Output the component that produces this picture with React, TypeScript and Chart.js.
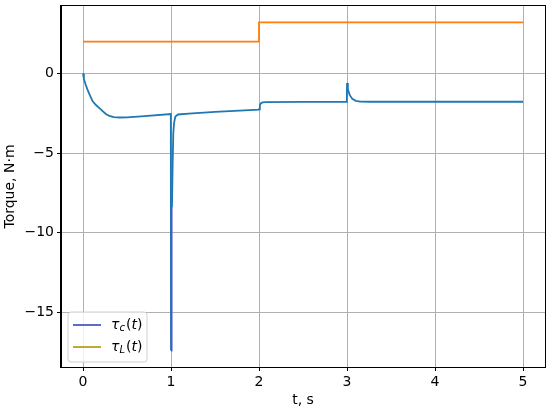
import React, { useEffect, useRef } from "react";
import { Chart, registerables } from "chart.js";

Chart.register(...registerables);

// τc(t) samples
const tC = [
  0, 0.01, 0.03, 0.05, 0.08, 0.11, 0.15, 0.19, 0.22, 0.26, 0.3, 0.35, 0.42, 0.5, 0.7, 0.998,
  1.0, 1.003, 1.007, 1.011, 1.018, 1.026, 1.035, 1.05, 1.08, 1.2, 1.5, 1.998,
  2.0, 2.01, 2.02, 2.04, 2.08, 2.5, 2.998,
  3.0, 3.01, 3.03, 3.06, 3.1, 3.15, 3.25, 5.0,
];
const torqueC = [
  0, -0.35, -0.7, -1.0, -1.4, -1.75, -2.0, -2.2, -2.35, -2.55, -2.67, -2.74, -2.77, -2.76, -2.68, -2.55,
  -17.4, -13.5, -10.5, -8.4, -5.9, -3.75, -3.1, -2.7, -2.58, -2.52, -2.42, -2.27,
  -2.25, -2.0, -1.88, -1.82, -1.8, -1.79, -1.78,
  -0.6, -1.0, -1.35, -1.6, -1.72, -1.77, -1.78, -1.78,
];
// τL(t) samples
const tL = [0, 2, 2, 5];
const torqueL = [2, 2, 3.2, 3.2];

const xTicks = [0, 1, 2, 3, 4, 5];
const yTicks = [-15, -10, -5, 0];

const FONT = "DejaVu Sans";

const frameAndLegend = {
  id: "frameAndLegend",
  afterDraw(chart: any) {
    const { ctx, chartArea: a } = chart;
    ctx.save();
    ctx.strokeStyle = "#000";
    ctx.lineWidth = 1;
    ctx.strokeRect(Math.round(a.left) - 0.5, Math.round(a.top) - 0.5, Math.round(a.right - a.left) + 1, Math.round(a.bottom - a.top) + 1);

    // legend box
    const bx = 68, by = 312, bw = 79, bh = 50, r = 3;
    ctx.beginPath();
    ctx.moveTo(bx + r, by);
    ctx.lineTo(bx + bw - r, by);
    ctx.quadraticCurveTo(bx + bw, by, bx + bw, by + r);
    ctx.lineTo(bx + bw, by + bh - r);
    ctx.quadraticCurveTo(bx + bw, by + bh, bx + bw - r, by + bh);
    ctx.lineTo(bx + r, by + bh);
    ctx.quadraticCurveTo(bx, by + bh, bx, by + bh - r);
    ctx.lineTo(bx, by + r);
    ctx.quadraticCurveTo(bx, by, bx + r, by);
    ctx.closePath();
    ctx.fillStyle = "rgba(255,255,255,0.8)";
    ctx.fill();
    ctx.strokeStyle = "#d0d0d0";
    ctx.lineWidth = 1;
    ctx.stroke();

    const entries = [
      { color: "#4a5cc0", sub: "c", y: 325 },
      { color: "#b8a120", sub: "L", y: 347 },
    ];
    for (const e of entries) {
      ctx.strokeStyle = e.color;
      ctx.lineWidth = 1.8;
      ctx.beginPath();
      ctx.moveTo(73, e.y);
      ctx.lineTo(101, e.y);
      ctx.stroke();
      ctx.fillStyle = "#000";
      ctx.textBaseline = "middle";
      ctx.textAlign = "left";
      let x = 111;
      ctx.font = `italic 14px ${FONT}`;
      ctx.fillText("τ", x, e.y);
      x += ctx.measureText("τ").width;
      ctx.font = `italic 10px ${FONT}`;
      ctx.fillText(e.sub, x, e.y + 3);
      x += ctx.measureText(e.sub).width + 1;
      ctx.font = `14px ${FONT}`;
      ctx.fillText("(", x, e.y);
      x += ctx.measureText("(").width;
      ctx.font = `italic 14px ${FONT}`;
      ctx.fillText("t", x, e.y);
      x += ctx.measureText("t").width;
      ctx.font = `14px ${FONT}`;
      ctx.fillText(")", x, e.y);
    }
    ctx.restore();
  },
};

export default function App() {
  const ref = useRef<HTMLCanvasElement>(null);
  useEffect(() => {
    document.body.style.margin = "0";
    const dataC = tC.map((t, i) => ({ x: t, y: torqueC[i] }));
    const dataL = tL.map((t, i) => ({ x: t, y: torqueL[i] }));
    const chart = new Chart(ref.current!, {
      type: "line",
      data: {
        datasets: [
          {
            label: "tau_c",
            data: dataC,
            borderColor: "#1f77b4",
            borderWidth: 1.8,
            pointRadius: 0,
            tension: 0,
            segment: {
              borderColor: (c: any) =>
                c.p0.parsed.y < -8 && c.p1.parsed.y < -8 ? "#4a5abf" : undefined,
            },
          },
          {
            label: "tau_L",
            data: dataL,
            borderColor: "#ff7f0e",
            borderWidth: 1.8,
            pointRadius: 0,
            tension: 0,
          },
        ],
      },
      options: {
        animation: false,
        responsive: false,
        layout: { padding: { top: 6, right: 5, left: 0, bottom: 0 } },
        plugins: { legend: { display: false }, tooltip: { enabled: false } },
        scales: {
          x: {
            type: "linear",
            min: -0.25,
            max: 5.25,
            afterBuildTicks: (s: any) => {
              s.ticks = xTicks.map((v) => ({ value: v }));
            },
            afterFit: (s: any) => {
              s.height = 44;
              s.paddingLeft = 0;
              s.paddingRight = 0;
            },
            ticks: {
              color: "#000",
              font: { family: FONT, size: 14 },
              padding: 3,
              maxRotation: 0,
              callback: (v: any) => String(v),
            },
            grid: { color: "#b0b0b0", lineWidth: 1, tickColor: "#000", tickLength: 4 },
            border: { color: "#000" },
            title: { display: true, text: "t, s", color: "#000", font: { family: FONT, size: 14 }, padding: { top: 2, bottom: 2 } },
          },
          y: {
            type: "linear",
            min: -18.43,
            max: 4.23,
            afterBuildTicks: (s: any) => {
              s.ticks = yTicks.map((v) => ({ value: v }));
            },
            afterFit: (s: any) => {
              s.width = 61;
              s.paddingTop = 0;
              s.paddingBottom = 0;
            },
            ticks: {
              color: "#000",
              font: { family: FONT, size: 14 },
              padding: 3,
              callback: (v: any) => (v < 0 ? "\u2212" + Math.abs(v) : String(v)),
            },
            grid: { color: "#b0b0b0", lineWidth: 1, tickColor: "#000", tickLength: 4 },
            border: { color: "#000" },
            title: { display: true, text: "Torque, N·m", color: "#000", font: { family: FONT, size: 14 }, padding: { top: 2, bottom: 2 } },
          },
        },
      },
      plugins: [frameAndLegend],
    });
    return () => chart.destroy();
  }, []);
  return (
    <div style={{ position: "fixed", left: 0, top: 0, width: 550, height: 411 }}>
      <canvas ref={ref} width={550} height={411} />
    </div>
  );
}
